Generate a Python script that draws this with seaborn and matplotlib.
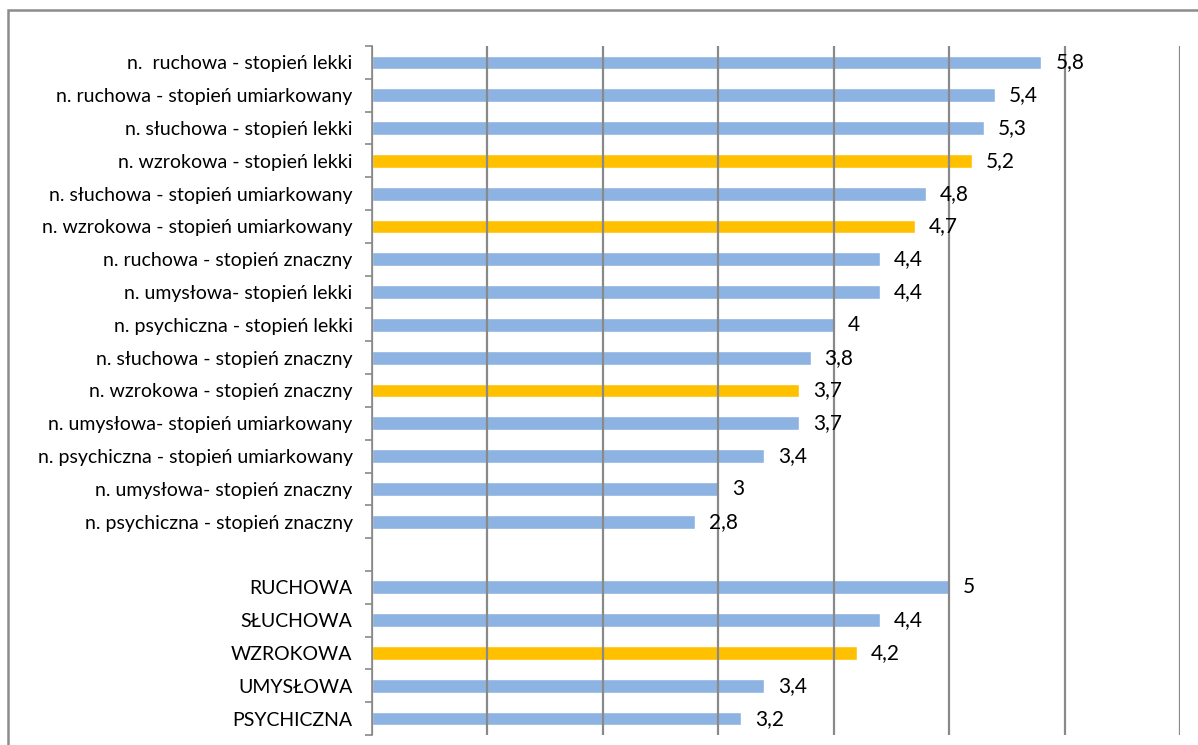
import pandas as pd
import matplotlib.pyplot as plt
import seaborn as sns
from matplotlib.patches import Rectangle

# Data
DETAIL_LABELS = [
    'n.  ruchowa - stopień lekki',
    'n. ruchowa - stopień umiarkowany',
    'n. słuchowa - stopień lekki',
    'n. wzrokowa - stopień lekki',
    'n. słuchowa - stopień umiarkowany',
    'n. wzrokowa - stopień umiarkowany',
    'n. ruchowa - stopień znaczny',
    'n. umysłowa- stopień lekki',
    'n. psychiczna - stopień lekki',
    'n. słuchowa - stopień znaczny',
    'n. wzrokowa - stopień znaczny',
    'n. umysłowa- stopień umiarkowany',
    'n. psychiczna - stopień umiarkowany',
    'n. umysłowa- stopień znaczny',
    'n. psychiczna - stopień znaczny',
]
DETAIL_VALUES = [5.8, 5.4, 5.3, 5.2, 4.8, 4.7, 4.4, 4.4, 4.0, 3.8, 3.7, 3.7, 3.4, 3.0, 2.8]

GROUP_LABELS = ['RUCHOWA', 'SŁUCHOWA', 'WZROKOWA', 'UMYSŁOWA', 'PSYCHICZNA']
GROUP_VALUES = [5.0, 4.4, 4.2, 3.4, 3.2]

GAP_LABEL = ' '

BLUE = '#8DB3E2'
GOLD = '#FFC000'
GRID = '#898989'

sns.set_theme(style='white')
plt.rcParams['font.family'] = ['Lato', 'DejaVu Sans']

df = pd.DataFrame({
    'label': DETAIL_LABELS + GROUP_LABELS,
    'value': DETAIL_VALUES + GROUP_VALUES,
})
df['kind'] = ['wzrok' if 'wzrok' in s.lower() else 'other' for s in df['label']]
order = DETAIL_LABELS + [GAP_LABEL] + GROUP_LABELS

fig = plt.figure(figsize=(11.98, 7.45), dpi=100)
ax = fig.add_axes([372 / 1198, 10 / 745, (1180 - 372) / 1198, 689 / 745])

sns.barplot(data=df, x='value', y='label', hue='kind', order=order,
            palette={'wzrok': GOLD, 'other': BLUE}, orient='h',
            width=0.42, dodge=False, legend=False, ax=ax, saturation=1)

# value labels with decimal comma
for container in ax.containers:
    ax.bar_label(container,
                 labels=[f'{w:g}'.replace('.', ',') for w in container.datavalues],
                 padding=10, fontsize=15, color='black')

ax.set_xlim(0, 7)
ax.set_ylim(len(order) - 0.5, -0.5)
ax.set_xlabel('')
ax.set_ylabel('')
ax.set_xticks(range(0, 8))
ax.set_xticklabels([])
ax.tick_params(axis='x', length=0)
ax.grid(axis='x', color=GRID, linewidth=1.6)
ax.grid(axis='y', visible=False)
ax.set_axisbelow(False)
for line in ax.get_xgridlines():
    line.set_zorder(0.5)

# category tick marks between bars, like the spreadsheet original
ax.set_yticks([i + 0.5 for i in range(-1, len(order))], minor=True)
ax.tick_params(axis='y', which='minor', length=5, width=1.2, color=GRID, direction='out', left=True)
ax.tick_params(axis='y', which='major', length=0, pad=14, labelsize=14, labelcolor='black')

for side in ['top', 'right', 'bottom']:
    ax.spines[side].set_visible(False)
ax.spines['left'].set_color(GRID)
ax.spines['left'].set_linewidth(1.2)

# outer chart frame (cropped on the right and bottom)
fig.patches.append(Rectangle((8 / 1198, -0.2), 1.2, (735 + 0.2 * 745) / 745,
                             transform=fig.transFigure, fill=False,
                             edgecolor='#8C8C8C', linewidth=1.8))

fig.savefig('out.png', dpi=100)
